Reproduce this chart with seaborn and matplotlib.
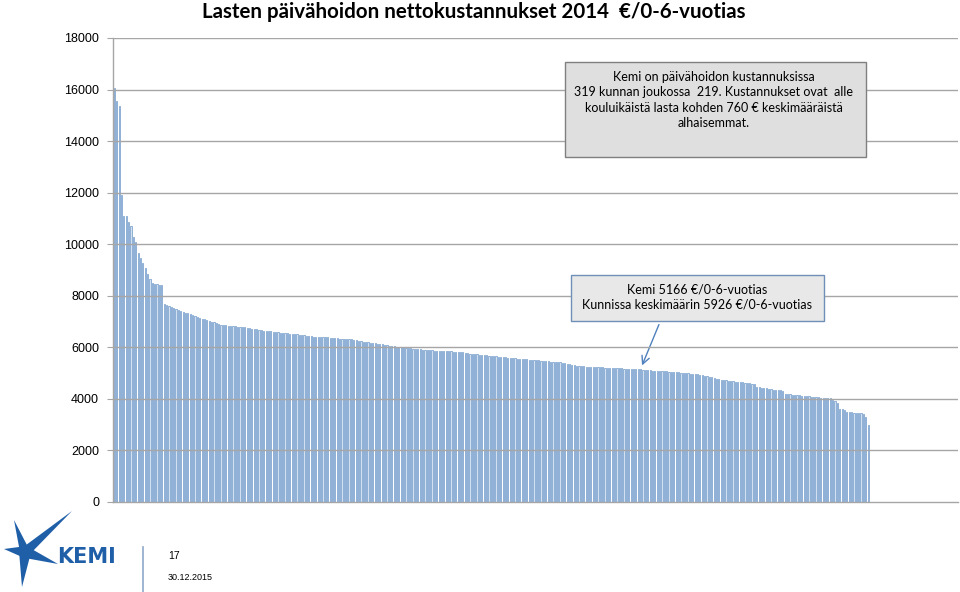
"""
Lasten päivähoidon nettokustannukset 2014, kunnat suuruusjärjestyksessä.
"""
import numpy as np
import pandas as pd
import matplotlib
matplotlib.use("Agg")
import matplotlib.pyplot as plt
from matplotlib.patches import Rectangle, Polygon
import seaborn as sns

# Kuntien nettokustannukset (€/0-6-vuotias), laskevassa järjestyksessä, 319 kuntaa
costs = [
    16050, 15570, 15360, 11900, 11100, 11100, 10870, 10700, 10290, 10100,
    9650, 9450, 9260, 9070, 8830, 8650, 8480, 8460, 8440, 8420,
    8410, 7690, 7650, 7600, 7560, 7510, 7470, 7440, 7400, 7380,
    7350, 7320, 7280, 7240, 7200, 7170, 7140, 7110, 7080, 7060,
    7030, 7000, 6970, 6940, 6910, 6880, 6860, 6850, 6840, 6830,
    6820, 6810, 6800, 6790, 6780, 6770, 6760, 6740, 6720, 6710,
    6700, 6690, 6670, 6650, 6640, 6630, 6620, 6610, 6600, 6590,
    6570, 6560, 6550, 6540, 6530, 6520, 6510, 6500, 6480, 6470,
    6460, 6450, 6440, 6430, 6420, 6420, 6410, 6410, 6400, 6400,
    6390, 6380, 6370, 6360, 6350, 6340, 6330, 6320, 6320, 6310,
    6310, 6300, 6280, 6260, 6240, 6220, 6200, 6190, 6180, 6160,
    6150, 6140, 6130, 6110, 6090, 6080, 6060, 6050, 6040, 6030,
    6020, 6010, 6000, 5990, 5980, 5960, 5950, 5940, 5930, 5920,
    5900, 5895, 5890, 5885, 5880, 5875, 5870, 5865, 5860, 5855,
    5850, 5845, 5840, 5835, 5830, 5825, 5820, 5800, 5780, 5770,
    5760, 5750, 5740, 5730, 5720, 5710, 5700, 5690, 5680, 5670,
    5660, 5650, 5640, 5630, 5620, 5610, 5600, 5590, 5580, 5570,
    5560, 5550, 5545, 5540, 5530, 5520, 5510, 5500, 5495, 5490,
    5480, 5470, 5460, 5455, 5450, 5440, 5435, 5430, 5420, 5400,
    5380, 5360, 5340, 5320, 5300, 5290, 5280, 5270, 5260, 5255,
    5250, 5245, 5240, 5235, 5230, 5225, 5220, 5215, 5210, 5205,
    5200, 5195, 5190, 5185, 5180, 5176, 5172, 5169, 5166, 5164,
    5162, 5160, 5150, 5140, 5130, 5120, 5110, 5100, 5095, 5090,
    5085, 5080, 5075, 5070, 5060, 5055, 5050, 5040, 5030, 5020,
    5010, 5000, 4990, 4980, 4970, 4960, 4950, 4930, 4910, 4890,
    4870, 4850, 4830, 4810, 4790, 4770, 4750, 4730, 4715, 4700,
    4690, 4680, 4670, 4660, 4650, 4640, 4630, 4615, 4600, 4590,
    4580, 4460, 4450, 4440, 4430, 4420, 4400, 4380, 4360, 4350,
    4340, 4330, 4320, 4200, 4190, 4180, 4170, 4160, 4150, 4140,
    4130, 4120, 4110, 4100, 4090, 4080, 4070, 4060, 4050, 4040,
    4030, 4025, 4020, 3960, 3900, 3850, 3620, 3600, 3560, 3500,
    3500, 3480, 3470, 3460, 3450, 3440, 3400, 3310, 2990,
]
y_ticks = [0, 2000, 4000, 6000, 8000, 10000, 12000, 14000, 16000, 18000]

kemi_rank = 219
kemi_cost = 5166
avg_cost = 5926

title = "Lasten päivähoidon nettokustannukset 2014  €/0-6-vuotias"
info_lines = [
    "Kemi on päivähoidon kustannuksissa",
    "319 kunnan joukossa  219. Kustannukset ovat  alle",
    "kouluikäistä lasta kohden 760 € keskimääräistä",
    "alhaisemmat.",
]
kemi_lines = [
    f"Kemi {kemi_cost} €/0-6-vuotias",
    f"Kunnissa keskimäärin {avg_cost} €/0-6-vuotias",
]

W, H = 960, 592


def px(x, y):
    """Pixel position (from top-left) to figure fraction."""
    return x / W, 1 - y / H


def draw_logo(fig):
    """Rough sketch of the KEMI logo in the lower left corner."""
    blue = "#1f5fa8"
    cx, cy = 25, 552
    arms = [
        ((4, 549), 6),    # left arm
        ((14, 520), 5),   # top
        ((22, 587), 6),   # bottom
        ((72, 511), 5),   # long upper diagonal
        ((58, 564), 6),   # lower right arm
    ]
    for (tx, ty), w in arms:
        dx, dy = tx - cx, ty - cy
        n = np.hypot(dx, dy)
        ox, oy = -dy / n * w, dx / n * w
        pts = [px(cx + ox, cy + oy), px(cx - ox, cy - oy), px(tx, ty)]
        fig.add_artist(Polygon(pts, closed=True, transform=fig.transFigure,
                               facecolor=blue, edgecolor="none"))
    fig.text(*px(57, 557), "KEMI", color=blue, fontsize=15,
             fontweight="bold", family="DejaVu Sans", va="center", ha="left")


def main():
    df = pd.DataFrame({"rank": np.arange(1, len(costs) + 1), "cost": costs})

    fig = plt.figure(figsize=(9.6, 5.92), dpi=100)
    ax = fig.add_axes([113 / W, 1 - 502 / H, 845 / W, 464 / H])

    sns.barplot(data=df, x="rank", y="cost", ax=ax, color="#d3e0f0",
                saturation=1, width=0.5, edgecolor="#4f81bd",
                linewidth=0.4)

    ax.set_xlim(-0.6, 355.9)
    ax.set_ylim(0, 18000)
    ax.set_yticks(y_ticks)
    ax.set_yticklabels([str(t) for t in y_ticks], fontsize=9,
                       family="Liberation Sans")
    ax.set_xticks([])
    ax.set_xlabel("")
    ax.set_ylabel("")
    # gridlines show across the thin bars in the original
    for t in y_ticks[1:]:
        ax.axhline(t, color="#a6a6a6", linewidth=1, zorder=5)
    ax.tick_params(axis="y", length=4, color="#a6a6a6", pad=6)
    for side in ("top", "right"):
        ax.spines[side].set_visible(False)
    for side in ("left", "bottom"):
        ax.spines[side].set_color("#a6a6a6")
        ax.spines[side].set_linewidth(1)
        ax.spines[side].set_zorder(6)

    # Title
    fig.text(*px(474, 12), title, ha="center", va="center", fontsize=14.8,
             fontweight="bold", family="Lato")

    # Info box
    x0, y0 = px(565, 157)
    x1, y1 = px(866, 62)
    fig.add_artist(Rectangle((x0, y0), x1 - x0, y1 - y0,
                             transform=fig.transFigure, facecolor="#dfdfdf",
                             edgecolor="#7f7f7f", linewidth=1))
    fig.text(*px(714, 100), "\n".join(info_lines), ha="center", va="center",
             fontsize=9, family="Lato", linespacing=1.32)

    # Kemi box
    x0, y0 = px(571, 321)
    x1, y1 = px(824, 275)
    fig.add_artist(Rectangle((x0, y0), x1 - x0, y1 - y0,
                             transform=fig.transFigure, facecolor="#e8e8e8",
                             edgecolor="#6f8fb8", linewidth=1))
    fig.text(*px(697, 297), "\n".join(kemi_lines), ha="center", va="center",
             fontsize=9, family="Lato", linespacing=1.3)

    # Arrow pointing to Kemi's bar
    ax.annotate("", xy=px(641, 368), xycoords="figure fraction",
                xytext=px(660, 322), textcoords="figure fraction",
                arrowprops=dict(arrowstyle="->", color="#4f81bd", lw=1,
                                mutation_scale=14))

    # Footer
    draw_logo(fig)
    fig.add_artist(plt.Line2D([143 / W, 143 / W], [0, 1 - 547 / H],
                              transform=fig.transFigure, color="#8fa8c8",
                              linewidth=1.2))
    fig.text(*px(168, 556), "17", fontsize=7.5, family="Liberation Sans",
             va="center", ha="left")
    fig.text(*px(168, 578), "30.12.2015", fontsize=6.5,
             family="Liberation Sans", va="center", ha="left")

    fig.savefig("out.png", dpi=100)
    plt.close(fig)


if __name__ == "__main__":
    main()
